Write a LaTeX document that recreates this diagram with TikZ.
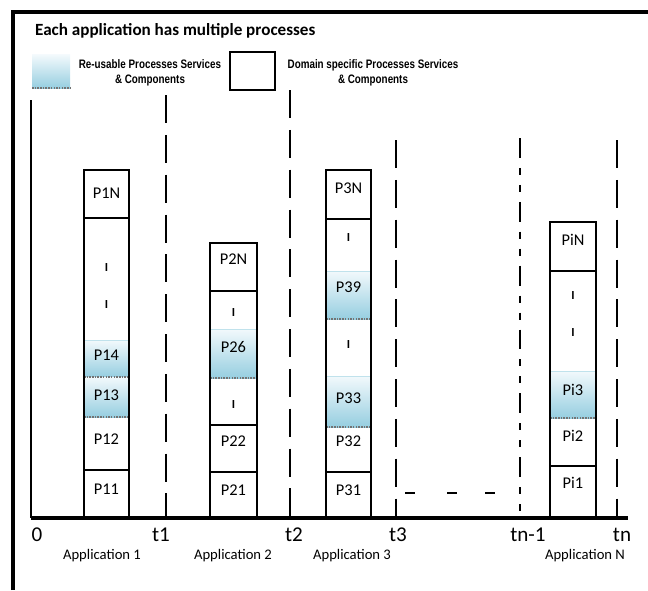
\documentclass[tikz,border=0pt]{standalone}
\usepackage{fontspec}
\setmainfont{Carlito}
\newfontfamily\narrowfont[FakeStretch=0.8]{Liberation Sans}
\usetikzlibrary{positioning}

\definecolor{reusetop}{RGB}{242,249,252}
\definecolor{reusebot}{RGB}{150,206,224}

\tikzset{
  reuse/.style={top color=reusetop, bottom color=reusebot, draw=none},
  reuseedge/.style={densely dotted, line width=1.3pt, black!55},
  reusetopedge/.style={line width=0.8pt, reusebot!60},
  divider/.style={line width=1pt},
  colside/.style={line width=1.1pt},
  timeline/.style={line width=1.4pt, dash pattern=on 24pt off 10pt},
  dashdot/.style={line width=1.4pt, dash pattern=on 17pt off 8.5pt on 6pt off 8.5pt on 6pt off 8.5pt},
  plab/.style={font=\fontsize{14}{14}\selectfont},
  gap/.style={font=\bfseries\fontsize{10.5}{10.5}\selectfont},
  tlab/.style={font=\fontsize{18}{18}\selectfont},
  applab/.style={font=\fontsize{12.5}{12.5}\selectfont},
  legtext/.style={font=\narrowfont\bfseries\fontsize{10.5}{13}\selectfont, align=center},
}

\begin{document}
\begin{tikzpicture}[x=0.03cm, y=-0.03cm]
  \useasboundingbox (0,0) rectangle (648,590);

  % frame
  \draw[line width=3pt] (13,590) -- (13,12) -- (648,12);
  \node[anchor=base west, font=\bfseries\fontsize{14.6}{15}\selectfont] (title) at (31,36) {Each application has multiple processes};

  % legend
  \path[reuse] (32,55) rectangle (70,88);
  \draw[reuseedge] (32,88) -- (70,88);
  \node[legtext] (legreuse) at (150,73) {Re-usable Processes Services\\ \& Components};
  \draw[line width=1.1pt] (230,52) rectangle (275,90);
  \node[legtext] (legdomain) at (373,73) {Domain specific Processes Services\\ \& Components};

  % axes
  \draw[line width=1.2pt] (31,100) -- (31,518);
  \draw[timeline] (166,95) -- (166,518);
  \draw[timeline] (290,90) -- (290,518);
  \draw[timeline] (396,140) -- (396,518);
  \draw[dashdot] (520,138) -- (520,518);
  \draw[timeline] (617,140) -- (617,518);
  \foreach \x in {405,447,485}
    \draw[line width=1.4pt] (\x,493) -- ++(10,0);

  % application 1
  \path[reuse] (84,340) rectangle (129,377);
  \path[reuse] (84,377) rectangle (129,417);
  \draw[reusetopedge] (84,340) -- (129,340);
  \draw[reuseedge] (84,377) -- (129,377) (84,417) -- (129,417);
  \draw[divider] (84,218) -- (129,218) (84,470) -- (129,470);
  \draw[colside] (84,518) -- (84,170) -- (129,170) -- (129,518);
  \node[plab] (p1n) at (106.5,193) {P1N};
  \node[gap] (g11) at (106.5,268) {I};
  \node[gap] (g12) at (106.5,305) {I};
  \node[plab] (p14) at (106.5,355) {P14};
  \node[plab] (p13) at (106.5,395) {P13};
  \node[plab] (p12) at (106.5,439) {P12};
  \node[plab] (p11) at (106.5,489) {P11};

  % application 2
  \path[reuse] (210,329) rectangle (257,378);
  \draw[reusetopedge] (210,329) -- (257,329);
  \draw[reuseedge] (210,378) -- (257,378);
  \draw[divider] (210,291) -- (257,291) (210,425) -- (257,425) (210,472) -- (257,472);
  \draw[colside] (210,518) -- (210,243) -- (257,243) -- (257,518);
  \node[plab] (p2n) at (233.5,259) {P2N};
  \node[gap] (g21) at (233.5,313) {I};
  \node[plab] (p26) at (233.5,347) {P26};
  \node[gap] (g22) at (233.5,405) {I};
  \node[plab] (p22) at (233.5,441) {P22};
  \node[plab] (p21) at (233.5,490) {P21};

  % application 3
  \path[reuse] (326,271) rectangle (371,319);
  \path[reuse] (326,376) rectangle (371,427);
  \draw[reusetopedge] (326,271) -- (371,271) (326,376) -- (371,376);
  \draw[reuseedge] (326,319) -- (371,319) (326,427) -- (371,427);
  \draw[divider] (326,219) -- (371,219) (326,472) -- (371,472);
  \draw[colside] (326,518) -- (326,170) -- (371,170) -- (371,518);
  \node[plab] (p3n) at (348.5,188) {P3N};
  \node[gap] (g31) at (348.5,238) {I};
  \node[plab] (p39) at (348.5,287) {P39};
  \node[gap] (g32) at (348.5,345) {I};
  \node[plab] (p33) at (348.5,398) {P33};
  \node[plab] (p32) at (348.5,441) {P32};
  \node[plab] (p31) at (348.5,490) {P31};

  % application N
  \path[reuse] (550,371) rectangle (596,418);
  \draw[reusetopedge] (550,371) -- (596,371);
  \draw[reuseedge] (550,418) -- (596,418);
  \draw[divider] (550,271) -- (596,271) (550,466) -- (596,466);
  \draw[colside] (550,518) -- (550,222) -- (596,222) -- (596,518);
  \node[plab] (pin) at (573,240) {PiN};
  \node[gap] (gi1) at (573,296) {I};
  \node[gap] (gi2) at (573,333) {I};
  \node[plab] (pi3) at (573,390) {Pi3};
  \node[plab] (pi2) at (573,436) {Pi2};
  \node[plab] (pi1) at (573,483) {Pi1};

  % time axis
  \draw[line width=2.6pt] (31,518) -- (628,518);
  \node[tlab] (t0) at (37,535) {0};
  \node[tlab] (t1) at (161,535) {t1};
  \node[tlab] (t2) at (294,535) {t2};
  \node[tlab] (t3) at (398,535) {t3};
  \node[tlab] (tn1) at (528,535) {tn-1};
  \node[tlab] (tn) at (622,535) {tn};
  \node[applab] (app1) at (102,556) {Application 1};
  \node[applab] (app2) at (233,556) {Application 2};
  \node[applab] (app3) at (352,556) {Application 3};
  \node[applab] (appn) at (585,556) {Application N};
\end{tikzpicture}
\end{document}
